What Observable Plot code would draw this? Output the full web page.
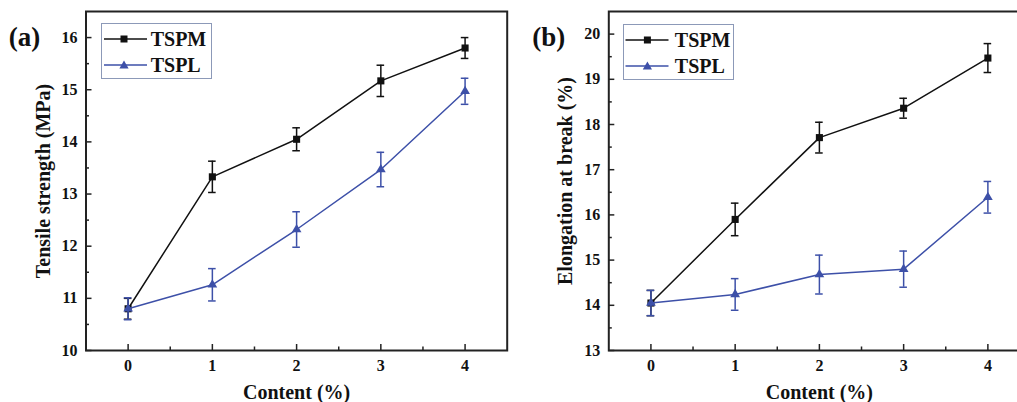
<!DOCTYPE html>
<html><head><meta charset="utf-8">
<script src="https://cdn.jsdelivr.net/npm/d3@7"></script>
<script src="https://cdn.jsdelivr.net/npm/@observablehq/plot@0.6"></script>
<style>
html,body{margin:0;padding:0;background:#fff;overflow:hidden;width:1017px;height:402px}
#wrap{position:relative;width:1017px;height:402px;overflow:hidden;background:#fff}
.panel{position:absolute;top:0}
.legend{position:absolute;border:1px solid #8c99b8;background:#fff;box-sizing:border-box;font-family:"Liberation Serif",serif;font-weight:bold;font-size:20px;color:#111}
.legend .row{position:absolute;left:0;height:24px;width:100%}
.legend svg{position:absolute;left:0;top:0}
.legend span{position:absolute;line-height:24px;top:0}
</style></head>
<body><div id="wrap"></div>
<script>
const content = [0, 1, 2, 3, 4];
const seriesNames = ["TSPM", "TSPL"];
const seriesColors = ["#111111", "#3d50a8"];
const seriesSymbols = ["square", "triangle"];

const tensileTSPM = [10.80, 13.33, 14.05, 15.17, 15.80];
const tensileTSPMErr = [0.20, 0.30, 0.22, 0.30, 0.20];
const tensileTSPL = [10.80, 11.26, 12.32, 13.47, 14.97];
const tensileTSPLErr = [0.21, 0.31, 0.34, 0.33, 0.25];

const elongTSPM = [14.05, 15.90, 17.71, 18.36, 19.47];
const elongTSPMErr = [0.28, 0.36, 0.34, 0.22, 0.32];
const elongTSPL = [14.05, 14.24, 14.68, 14.80, 16.39];
const elongTSPLErr = [0.28, 0.35, 0.43, 0.40, 0.35];

const tensileTicks = [10, 11, 12, 13, 14, 15, 16];
const tensileMinor = [10.5, 11.5, 12.5, 13.5, 14.5, 15.5];
const elongTicks = [13, 14, 15, 16, 17, 18, 19, 20];
const elongMinor = [13.5, 14.5, 15.5, 16.5, 17.5, 18.5, 19.5];
const xTicks = [0, 1, 2, 3, 4];
const xMinor = [0.5, 1.5, 2.5, 3.5];

function rows(vals, errs) {
  return content.map((x, i) => ({x, y: vals[i], e: errs[i]}));
}

function seriesMarks(data, color, symbol) {
  return [
    Plot.line(data, {x: "x", y: "y", stroke: color, strokeWidth: 1.5}),
    Plot.ruleX(data, {x: "x", y1: d => d.y - d.e, y2: d => d.y + d.e, stroke: color, strokeWidth: 1.5}),
    Plot.ruleY(data, {y: d => d.y + d.e, x1: d => d.x - 0.045, x2: d => d.x + 0.045, stroke: color, strokeWidth: 1.5}),
    Plot.ruleY(data, {y: d => d.y - d.e, x1: d => d.x - 0.045, x2: d => d.x + 0.045, stroke: color, strokeWidth: 1.5}),
    Plot.dot(data, {x: "x", y: "y", symbol: () => symbol, fill: color, stroke: "none", r: symbol === "square" ? 4 : 3.6})
  ];
}

function panel({left, width, marginLeft, yDomain, yTicks, yMinor, yLabel, tag, s1, s2, ylabDx, tagDx}) {
  const svg = Plot.plot({
    width, height: 402,
    marginLeft, marginRight: width - marginLeft - 421.2, marginTop: 11, marginBottom: 52,
    x: {domain: [-0.5, 4.5]},
    y: {domain: yDomain},
    style: {fontFamily: "Liberation Serif, serif", fontWeight: "bold", fontSize: "16px", color: "#111", background: "transparent", overflow: "visible"},
    marks: [
      ...seriesMarks(s1, seriesColors[0], seriesSymbols[0]),
      ...seriesMarks(s2, seriesColors[1], seriesSymbols[1]),
      Plot.axisY({ticks: yTicks, tickFormat: d => String(d), tickSize: -6, tickPadding: 14.5, label: null, stroke: "#222", strokeWidth: 1.5, fontSize: 16}),
      Plot.axisY({ticks: yMinor, tickSize: -3.5, tickFormat: () => "", label: null, stroke: "#222", strokeWidth: 1.5}),
      Plot.axisX({ticks: xTicks, tickFormat: d => String(d), tickSize: -6, tickPadding: 15, label: null, stroke: "#222", strokeWidth: 1.5, fontSize: 16}),
      Plot.axisX({ticks: xMinor, tickSize: -3.5, tickFormat: () => "", label: null, stroke: "#222", strokeWidth: 1.5}),
      Plot.frame({stroke: "#222", strokeWidth: 2}),
      Plot.text(["Content (%)"], {text: d => d, frameAnchor: "bottom", textAnchor: "middle", lineAnchor: "middle", dy: 42, fontSize: 20, fontWeight: "bold", fill: "#111"}),
      Plot.text([yLabel], {text: d => d, frameAnchor: "left", textAnchor: "middle", lineAnchor: "middle", dx: ylabDx, rotate: -90, fontSize: 20, fontWeight: "bold", fill: "#111"}),
      Plot.text([tag], {text: d => d, frameAnchor: "top-left", textAnchor: "middle", lineAnchor: "middle", dx: tagDx, dy: 26, fontSize: 27, fontWeight: "bold", fill: "#111"})
    ]
  });
  svg.classList.add("panel");
  svg.style.left = left + "px";
  document.getElementById("wrap").appendChild(svg);
}

function legend(left, top, lineX1, lineX2, markX, textX) {
  const div = document.createElement("div");
  div.className = "legend";
  div.style.left = left + "px"; div.style.top = top + "px";
  div.style.width = "111px"; div.style.height = "56px";
  const rowY = [3, 28.5];
  seriesNames.forEach((name, i) => {
    const row = document.createElement("div");
    row.className = "row"; row.style.top = rowY[i] + "px";
    const c = seriesColors[i];
    const sym = i === 0
      ? `<rect x="${markX - 3.5}" y="8.5" width="7" height="7" fill="${c}"/>`
      : `<path d="M${markX},7.5 L${markX + 4.6},15.5 L${markX - 4.6},15.5 Z" fill="${c}"/>`;
    row.innerHTML = `<svg width="60" height="24"><line x1="${lineX1}" x2="${lineX2}" y1="12" y2="12" stroke="${c}" stroke-width="1.5"/>${sym}</svg><span style="left:${textX}px">${name}</span>`;
    div.appendChild(row);
  });
  document.getElementById("wrap").appendChild(div);
}

panel({left: 0, width: 520, marginLeft: 85.5, yDomain: [10, 16.5], yTicks: tensileTicks, yMinor: tensileMinor,
  yLabel: "Tensile strength (MPa)", tag: "(a)", s1: rows(tensileTSPM, tensileTSPMErr), s2: rows(tensileTSPL, tensileTSPLErr),
  ylabDx: -42.5, tagDx: -61.5});
panel({left: 510, width: 530, marginLeft: 98.3, yDomain: [13, 20.5], yTicks: elongTicks, yMinor: elongMinor,
  yLabel: "Elongation at break (%)", tag: "(b)", s1: rows(elongTSPM, elongTSPMErr), s2: rows(elongTSPL, elongTSPLErr),
  ylabDx: -43.3, tagDx: -60});

legend(100.7, 23.3, 2, 45, 22, 49);
legend(623.3, 24, 1.5, 44.5, 23.4, 50.5);
</script></body></html>
